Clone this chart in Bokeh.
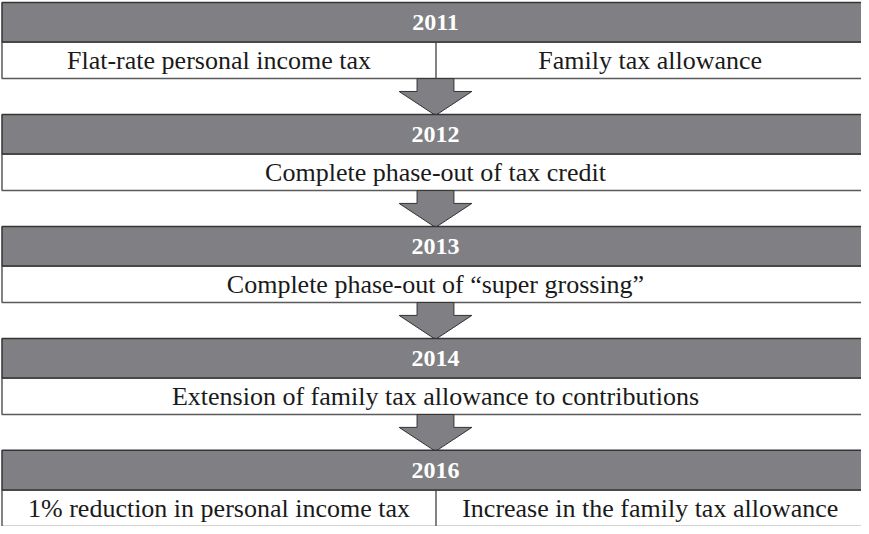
from bokeh.plotting import figure
from bokeh.models import Range1d
from bokeh.core.properties import value
from bokeh.embed import file_html
from bokeh.resources import INLINE

# ---- content ----
years = ["2011", "2012", "2013", "2014", "2016"]
measure_left = [
    "Flat-rate personal income tax",
    "Complete phase-out of tax credit",
    "Complete phase-out of \u201csuper grossing\u201d",
    "Extension of family tax allowance to contributions",
    "1% reduction in personal income tax",
]
measure_right = [
    "Family tax allowance",
    "",
    "",
    "",
    "Increase in the family tax allowance",
]

# ---- layout (in reference pixel space) ----
X0, X1, XMID, XC = 6.5, 880.0, 442.0, 441.5
TOP0, STEP, HEAD_H, ROW_H = 4.0, 113.25, 40.0, 37.0
GRAY = "#808084"
FONT = "Liberation Serif"

p = figure(width=861, height=526, output_backend="svg", toolbar_location=None,
           x_range=Range1d(5, 869), y_range=Range1d(534, 2),
           x_axis_type=None, y_axis_type=None, min_border=0)
p.grid.visible = False
p.outline_line_color = None
p.background_fill_color = "white"

n = len(years)
head_top = [TOP0 + i * STEP for i in range(n)]
head_bot = [t + HEAD_H for t in head_top]
row_bot = [b + ROW_H for b in head_bot]

# white rows
p.quad(left=[X0] * n, right=[X1] * n, top=head_bot, bottom=row_bot,
       fill_color="white", line_color="#5a5a5a", line_width=1.5)

# dividers for two-measure rows
div_idx = [i for i in range(n) if measure_right[i]]
p.segment(x0=[XMID] * len(div_idx), x1=[XMID] * len(div_idx),
          y0=[head_bot[i] for i in div_idx], y1=[row_bot[i] for i in div_idx],
          line_color="#5a5a5a", line_width=1.5)

# arrows
xs, ys = [], []
for i in range(n - 1):
    y0 = row_bot[i]
    ys_sh = y0 + 13
    tip = head_top[i + 1] + 1
    xs.append([423, 460, 460, 478, XC, 405, 423])
    ys.append([y0, y0, ys_sh, ys_sh, tip, ys_sh, ys_sh])
p.patches(xs=xs, ys=ys, fill_color=GRAY, line_color="#333333", line_width=1)

# headers
p.quad(left=[X0] * n, right=[X1] * n, top=head_top, bottom=head_bot,
       fill_color=GRAY, line_color="#353535", line_width=1.5)

# year labels
p.text(x=[XC] * n, y=[t + HEAD_H / 2 for t in head_top], text=years,
       text_font=value(FONT), text_font_style="bold", text_font_size="24px",
       text_color="white", text_align="center", text_baseline="middle")

# measure labels
tx, ty, tt = [], [], []
for i in range(n):
    yc = head_bot[i] + ROW_H / 2
    if measure_right[i]:
        tx += [(X0 + XMID) / 2, 657]
        ty += [yc] * 2
        tt += [measure_left[i], measure_right[i]]
    else:
        tx.append(XC)
        ty.append(yc)
        tt.append(measure_left[i])
p.text(x=tx, y=ty, text=tt, text_font=value(FONT), text_font_size="26px",
       text_color="#1a1a1a", text_align="center", text_baseline="middle")

open("out.html", "w").write(file_html(p, INLINE))
